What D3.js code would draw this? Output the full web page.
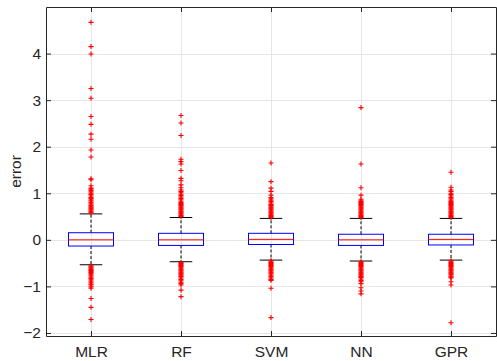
<!DOCTYPE html>
<html>
<head>
<meta charset="utf-8">
<script src="https://cdn.jsdelivr.net/npm/d3@7/dist/d3.min.js"></script>
<style>
  body { margin: 0; background: #fff; }
  svg { display: block; font-family: "Liberation Sans", Arial, sans-serif; }
</style>
</head>
<body>
<div id="chart"></div>
<script>
// model names and box statistics
const models = ["MLR", "RF", "SVM", "NN", "GPR"];
const q1 = [-0.133, -0.12, -0.10, -0.12, -0.11];
const medians = [0.0, 0.0, 0.01, 0.0, 0.01];
const q3 = [0.153, 0.14, 0.14, 0.12, 0.12];
const whiskerLow = [-0.535, -0.47, -0.435, -0.455, -0.435];
const whiskerHigh = [0.557, 0.48, 0.46, 0.46, 0.46];
const yTicks = [-2, -1, 0, 1, 2, 3, 4];

// outliers per model (the dense red columns are listed point by point)
const outliersMLR = [0.58, 0.60, 0.62, 0.64, 0.66, 0.68, 0.70, 0.72, 0.74, 0.77, 0.79, 0.81, 0.84, 0.86,
  0.89, 0.91, 0.94, 0.97, 1.00, 1.03, 1.06, 1.09, 1.11, 1.16, 1.29, 1.31, 1.78, 1.93, 2.16, 2.27,
  2.48, 2.65, 3.04, 3.25, 3.99, 4.15, 4.67,
  -0.56, -0.58, -0.60, -0.62, -0.64, -0.66, -0.68, -0.70, -0.72, -0.75, -0.77, -0.80, -0.83, -0.86,
  -0.89, -0.92, -0.95, -0.97, -1.01, -1.04, -1.26, -1.45, -1.71];
const outliersRF = [0.50, 0.52, 0.54, 0.56, 0.58, 0.60, 0.62, 0.64, 0.66, 0.68, 0.70, 0.72, 0.74, 0.76,
  0.78, 0.80, 0.83, 0.86, 0.89, 0.92, 0.95, 0.98, 1.01, 1.04, 1.07, 1.12, 1.18, 1.27, 1.32, 1.49,
  1.63, 1.68, 1.73, 2.24, 2.51, 2.67,
  -0.49, -0.51, -0.53, -0.55, -0.57, -0.59, -0.61, -0.63, -0.65, -0.67, -0.69, -0.71, -0.73, -0.75,
  -0.77, -0.79, -0.82, -0.85, -0.88, -0.91, -0.94, -0.97, -1.08, -1.22];
const outliersSVM = [0.48, 0.50, 0.52, 0.54, 0.56, 0.58, 0.60, 0.62, 0.64, 0.66, 0.68, 0.70, 0.72, 0.74,
  0.76, 0.79, 0.82, 0.85, 0.88, 0.91, 0.96, 1.04, 1.11, 1.25, 1.65,
  -0.45, -0.47, -0.49, -0.51, -0.53, -0.55, -0.57, -0.59, -0.61, -0.63, -0.65, -0.67, -0.69, -0.71,
  -0.73, -0.76, -0.79, -0.82, -0.85, -0.87, -1.04, -1.67];
const outliersNN = [0.48, 0.50, 0.52, 0.54, 0.56, 0.58, 0.60, 0.62, 0.64, 0.66, 0.68, 0.70, 0.72, 0.74,
  0.76, 0.78, 0.80, 0.82, 0.84, 0.87, 0.96, 1.12, 1.63, 2.84,
  -0.47, -0.49, -0.51, -0.53, -0.55, -0.57, -0.59, -0.61, -0.63, -0.65, -0.67, -0.69, -0.71, -0.73,
  -0.75, -0.77, -0.79, -0.81, -0.84, -0.87, -0.90, -0.94, -1.03, -1.10, -1.16];
const outliersGPR = [0.48, 0.50, 0.52, 0.54, 0.56, 0.58, 0.60, 0.62, 0.64, 0.66, 0.68, 0.70, 0.72, 0.74,
  0.76, 0.78, 0.80, 0.82, 0.85, 0.88, 0.91, 0.94, 0.97, 1.00, 1.04, 1.07, 1.13, 1.45,
  -0.45, -0.47, -0.49, -0.51, -0.53, -0.55, -0.57, -0.59, -0.61, -0.63, -0.65, -0.67, -0.69, -0.71,
  -0.73, -0.75, -0.78, -0.80, -0.82, -0.90, -0.97, -1.78];
const outliers = [outliersMLR, outliersRF, outliersSVM, outliersNN, outliersGPR];

const W = 497, H = 361;
const margin = {top: 7, right: 1, bottom: 25, left: 46};
const width = W - margin.left - margin.right;
const height = H - margin.top - margin.bottom;
const axisColor = "#262626";

let svg = d3.select("#chart").append("svg")
  .attr("width", W)
  .attr("height", H);

let chart = svg.append("g")
  .attr("transform", `translate(${margin.left},${margin.top})`);

let x = d3.scalePoint().domain(models).range([0, width]).padding(0.5);
let y = d3.scaleLinear().domain([-2.065, 5.0]).range([height, 0]);
let boxW = x.step() * 0.5;
let capW = x.step() * 0.25;

// grid
chart.append("g").selectAll("line.gy")
  .data(yTicks).enter().append("line")
  .attr("x1", 0).attr("x2", width)
  .attr("y1", d => Math.round(y(d)) + 0.5).attr("y2", d => Math.round(y(d)) + 0.5)
  .attr("stroke", "#e6e6e6");
chart.append("g").selectAll("line.gx")
  .data(models).enter().append("line")
  .attr("x1", d => Math.round(x(d)) + 0.5).attr("x2", d => Math.round(x(d)) + 0.5)
  .attr("y1", 0).attr("y2", height)
  .attr("stroke", "#e6e6e6");

let rows = models.map((m, i) => ({
  name: m, q1: q1[i], med: medians[i], q3: q3[i],
  lo: whiskerLow[i], hi: whiskerHigh[i], out: outliers[i]
}));

let box = chart.selectAll(".box")
  .data(rows).enter().append("g")
  .attr("class", "box");

// whiskers
box.append("line")
  .attr("x1", d => x(d.name)).attr("x2", d => x(d.name))
  .attr("y1", d => y(d.q3)).attr("y2", d => y(d.hi))
  .attr("stroke", "#000").attr("stroke-dasharray", "3,2");
box.append("line")
  .attr("x1", d => x(d.name)).attr("x2", d => x(d.name))
  .attr("y1", d => y(d.q1)).attr("y2", d => y(d.lo))
  .attr("stroke", "#000").attr("stroke-dasharray", "3,2");
box.append("line")
  .attr("x1", d => x(d.name) - capW / 2).attr("x2", d => x(d.name) + capW / 2)
  .attr("y1", d => y(d.hi)).attr("y2", d => y(d.hi))
  .attr("stroke", "#000");
box.append("line")
  .attr("x1", d => x(d.name) - capW / 2).attr("x2", d => x(d.name) + capW / 2)
  .attr("y1", d => y(d.lo)).attr("y2", d => y(d.lo))
  .attr("stroke", "#000");

// box and median
box.append("rect")
  .attr("x", d => x(d.name) - boxW / 2)
  .attr("y", d => y(d.q3))
  .attr("width", boxW)
  .attr("height", d => y(d.q1) - y(d.q3))
  .attr("fill", "none")
  .attr("stroke", "#0000ff");
box.append("line")
  .attr("x1", d => x(d.name) - boxW / 2).attr("x2", d => x(d.name) + boxW / 2)
  .attr("y1", d => y(d.med)).attr("y2", d => y(d.med))
  .attr("stroke", "#ff0000");

// outliers as red plus signs
box.selectAll("path.out")
  .data(d => d.out.map(v => ({name: d.name, v: v})))
  .enter().append("path")
  .attr("class", "out")
  .attr("transform", d => `translate(${x(d.name)},${y(d.v)})`)
  .attr("d", "M-2.5,0H2.5M0,-2.5V2.5")
  .attr("stroke", "#ff0000")
  .attr("stroke-width", 1.1)
  .attr("fill", "none");

// axes, ticks pointing inward on all four sides
let yAxis = chart.append("g")
  .call(d3.axisLeft(y).tickValues(yTicks).tickFormat(d3.format("d"))
    .tickSizeInner(-5).tickSizeOuter(0).tickPadding(5));
let yAxisR = chart.append("g")
  .attr("transform", `translate(${width},0)`)
  .call(d3.axisRight(y).tickValues(yTicks).tickSizeInner(-5).tickSizeOuter(0).tickFormat(""));
let xAxis = chart.append("g")
  .attr("transform", `translate(0,${height})`)
  .call(d3.axisBottom(x).tickSizeInner(-5).tickSizeOuter(0).tickPadding(10));
let xAxisT = chart.append("g")
  .call(d3.axisTop(x).tickSizeInner(-5).tickSizeOuter(0).tickFormat(""));

[yAxis, yAxisR, xAxis, xAxisT].forEach(a => {
  a.select(".domain").attr("stroke", axisColor);
  a.selectAll(".tick line").attr("stroke", axisColor);
  a.selectAll(".tick text")
    .attr("fill", axisColor)
    .style("font-size", "15.5px")
    .style("font-family", "'Liberation Sans', Arial, sans-serif");
});

svg.append("text")
  .attr("transform", `translate(21,${margin.top + height / 2}) rotate(-90)`)
  .attr("text-anchor", "middle")
  .attr("fill", axisColor)
  .style("font-size", "15.5px")
  .text("error");
</script>
</body>
</html>
